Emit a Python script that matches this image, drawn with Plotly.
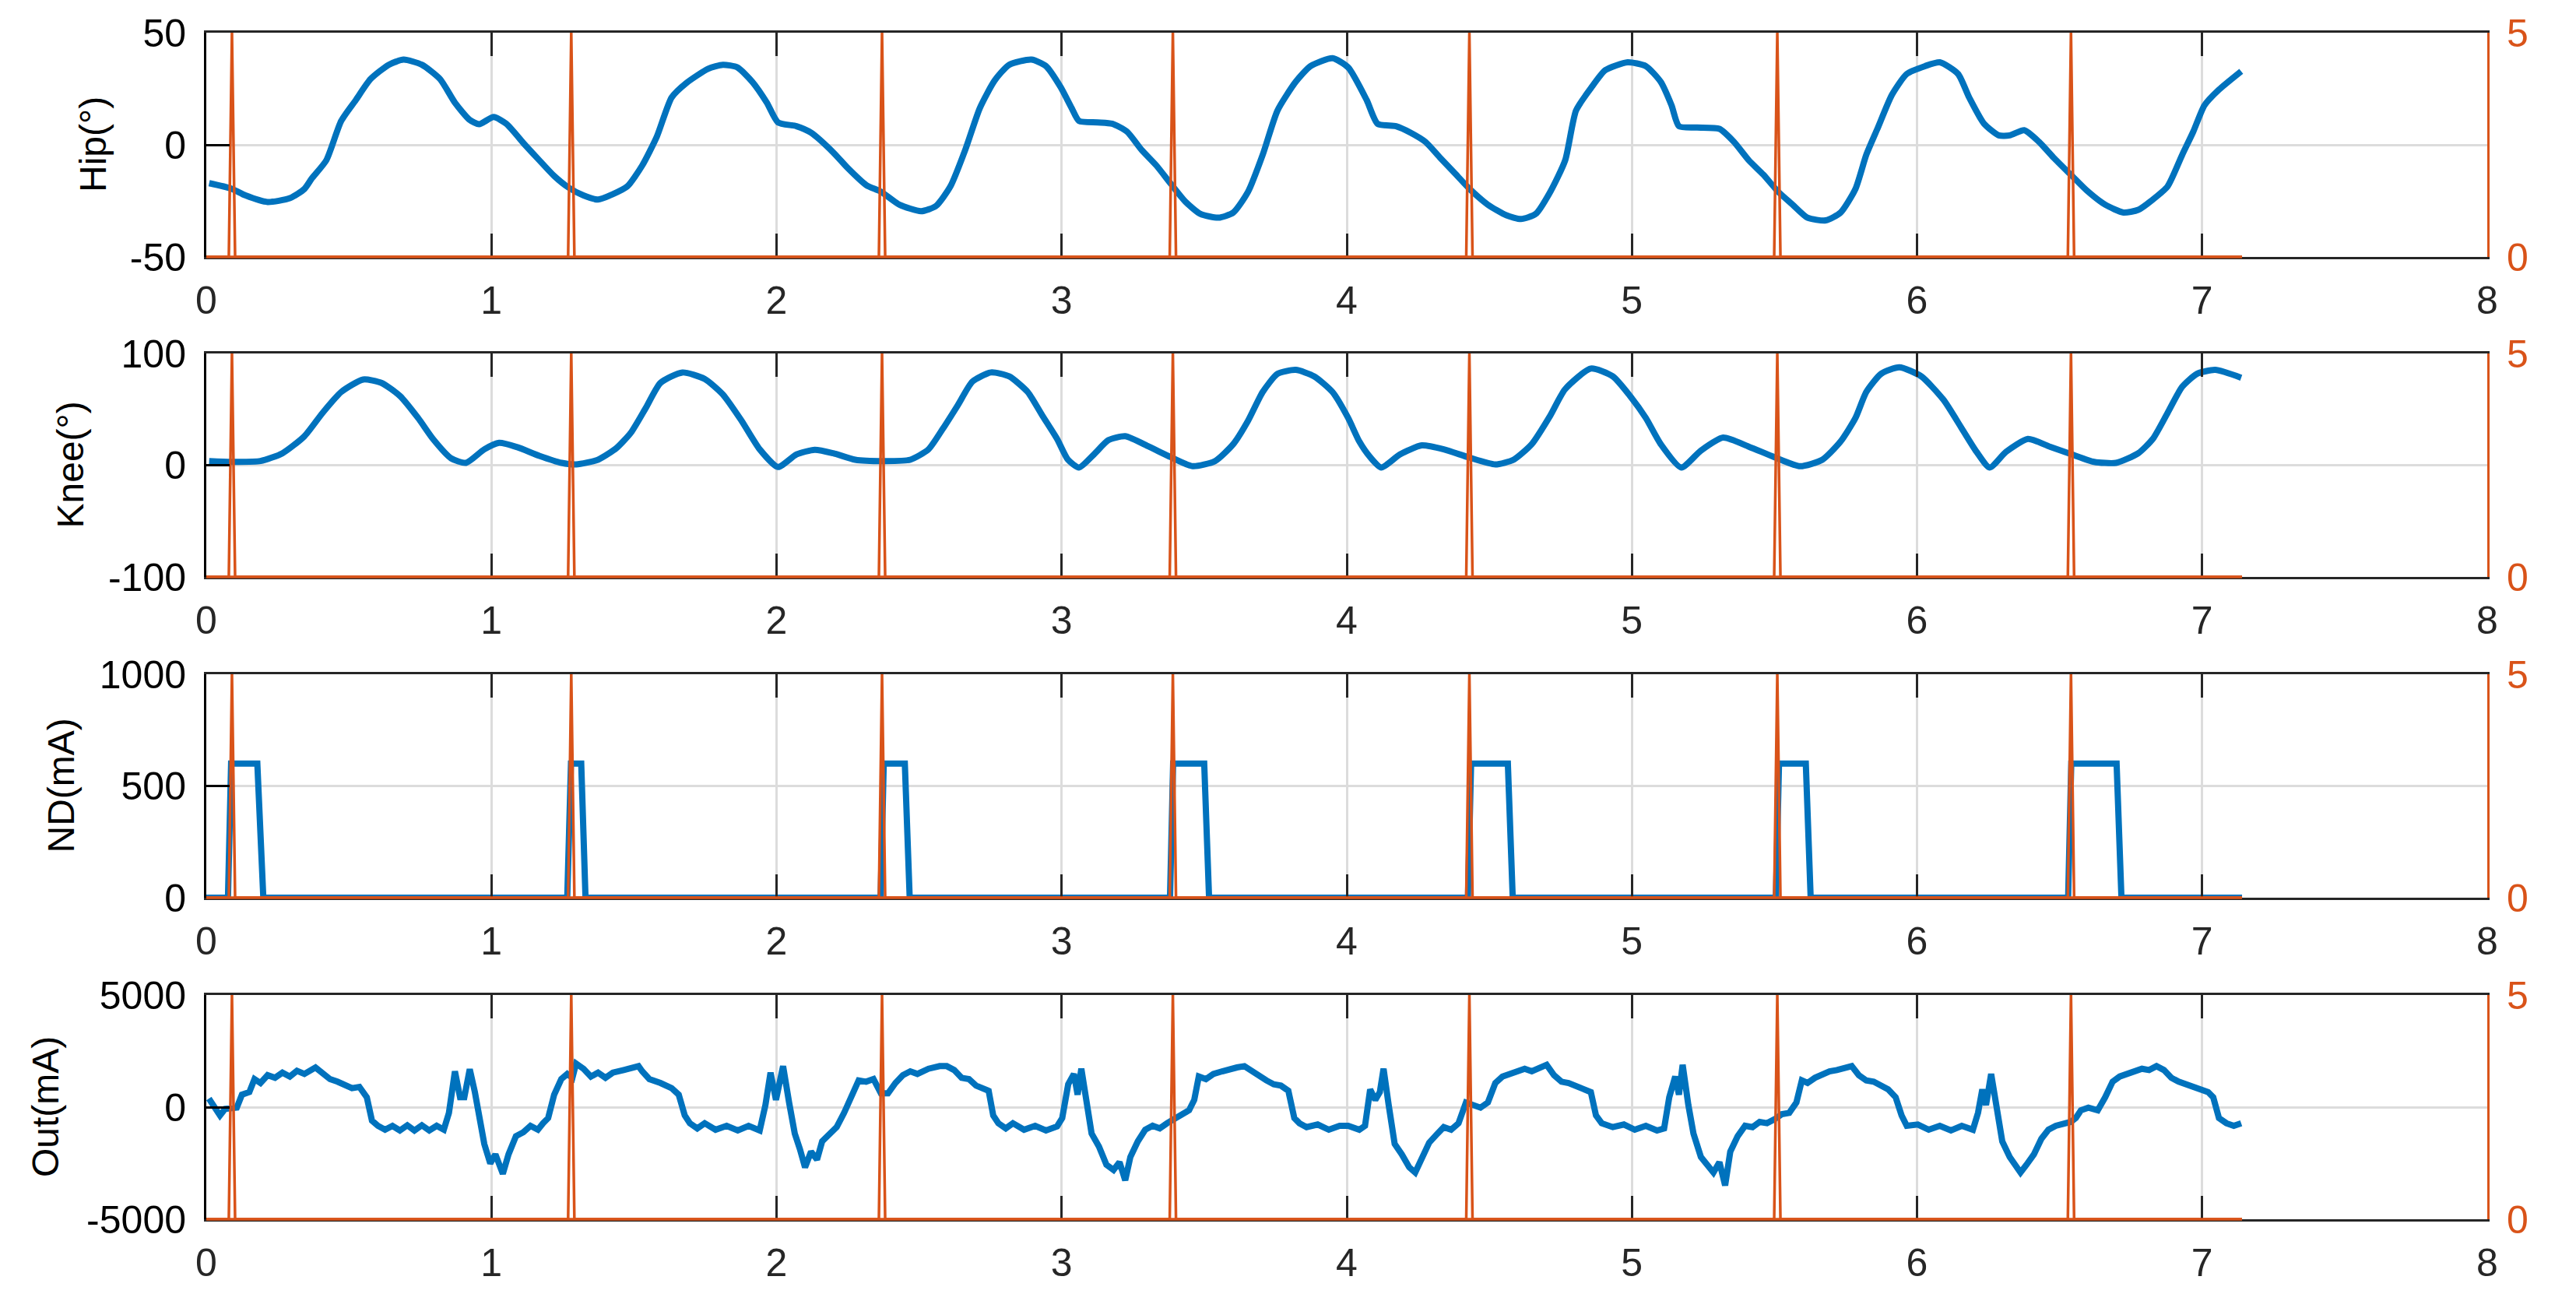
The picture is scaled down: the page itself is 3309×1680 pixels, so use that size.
import plotly.graph_objects as go

# ---------------- data ----------------
t_end = 7.14
spike_times = [0.09, 1.28, 2.37, 3.39, 4.43, 5.51, 6.54]
spike_height = 5

hip_t = [0.01, 0.087, 0.138, 0.215, 0.293, 0.344, 0.37, 0.421, 0.473, 0.524, 0.576, 0.64, 0.692, 0.756, 0.82,
         0.872, 0.923, 0.957, 1.008, 1.052, 1.117, 1.168, 1.22, 1.271, 1.323, 1.374, 1.426, 1.477, 1.529, 1.58,
         1.632, 1.683, 1.76, 1.812, 1.863, 1.915, 1.966, 2.005, 2.07, 2.121, 2.199, 2.25, 2.315, 2.366, 2.431,
         2.507, 2.559, 2.61, 2.662, 2.713, 2.765, 2.816, 2.894, 2.945, 2.996, 3.035, 3.061, 3.126, 3.177, 3.229,
         3.28, 3.332, 3.383, 3.435, 3.486, 3.55, 3.602, 3.654, 3.705, 3.757, 3.821, 3.873, 3.95, 4.005, 4.07,
         4.108, 4.173, 4.224, 4.276, 4.327, 4.379, 4.431, 4.495, 4.56, 4.611, 4.663, 4.714, 4.766, 4.804, 4.856,
         4.907, 4.985, 5.049, 5.101, 5.139, 5.165, 5.229, 5.307, 5.358, 5.41, 5.461, 5.513, 5.564, 5.616, 5.68,
         5.732, 5.784, 5.822, 5.861, 5.912, 5.964, 6.028, 6.08, 6.144, 6.183, 6.235, 6.287, 6.325, 6.376, 6.428,
         6.479, 6.544, 6.595, 6.66, 6.724, 6.776, 6.827, 6.879, 6.93, 6.969, 7.008, 7.059, 7.137]
hip_v = [-17.1, -19.5, -22.6, -25.5, -23.8, -19.7, -15, -6.9, 10.6, 19.9, 29.3, 35.7, 38, 35.7, 29.3,
         18.8, 11.2, 9.2, 12.4, 9.4, 0.1, -6.9, -13.9, -19.1, -22.6, -24.4, -22, -18.5, -9.2, 3.6,
         21.1, 27.5, 33.9, 35.7, 34.5, 28.1, 18.8, 10, 8.3, 5.4, -3.4, -10.4, -18, -20.9, -26.7,
         -29.6, -27.3, -18.5, -2.2, 16.4, 28.7, 35.7, 38, 35.1, 25.8, 16.4, 10.6, 10, 9.4, 5.9,
         -2.2, -9.2, -17.4, -25.5, -30.8, -32.5, -30.2, -20.9, -4.5, 15.3, 28.1, 35.1, 38.6, 34.5, 19.9,
         9.4, 8.3, 5.4, 1.3, -5.7, -12.7, -19.7, -26.7, -31.4, -33.1, -30.8, -20.9, -6.9, 15.3, 25.2,
         33.3, 36.8, 35.1, 28.1, 17.6, 8.3, 7.7, 7.1, 1.3, -6.9, -13.3, -20.9, -26.7, -32.5, -33.7,
         -30.2, -19.7, -4.5, 7.1, 22.3, 31.6, 35.1, 36.8, 31.6, 21.1, 9.4, 4.2, 4.2, 6.5, 1.3,
         -5.7, -13.9, -20.3, -26.7, -30.2, -29, -24.4, -18.5, -4.5, 5.9, 17.6, 24.6, 32.8]

knee_t = [0.01, 0.087, 0.19, 0.267, 0.344, 0.408, 0.473, 0.55, 0.614, 0.679, 0.743, 0.795, 0.859, 0.911, 0.975,
          1.027, 1.091, 1.168, 1.246, 1.297, 1.374, 1.439, 1.49, 1.542, 1.593, 1.67, 1.748, 1.812, 1.877, 1.941,
          2.005, 2.07, 2.134, 2.199, 2.276, 2.379, 2.469, 2.533, 2.584, 2.636, 2.687, 2.752, 2.816, 2.881, 2.932,
          2.984, 3.022, 3.061, 3.113, 3.164, 3.223, 3.306, 3.383, 3.46, 3.538, 3.602, 3.654, 3.705, 3.757, 3.821,
          3.886, 3.95, 4.005, 4.044, 4.082, 4.121, 4.186, 4.263, 4.34, 4.43, 4.521, 4.585, 4.649, 4.714, 4.765,
          4.856, 4.933, 4.997, 5.049, 5.101, 5.173, 5.242, 5.32, 5.41, 5.5, 5.59, 5.668, 5.732, 5.784, 5.822,
          5.874, 5.938, 6.015, 6.093, 6.157, 6.209, 6.255, 6.312, 6.389, 6.466, 6.544, 6.621, 6.698, 6.776, 6.827,
          6.879, 6.93, 6.982, 7.046, 7.137]
knee_v = [3.7, 3.0, 3.7, 10.7, 25.9, 46.9, 65.5, 76.7, 73.7, 62, 42.2, 23.5, 6.1, 2.1, 14.2,
          20, 16.1, 8.4, 2.1, 0.7, 4.9, 15.4, 29.4, 51.5, 73.7, 83, 77.2, 63.2, 39.9, 14.2,
          -1.6, 9.6, 13.8, 10.7, 4.9, 3.7, 4.9, 14.2, 32.9, 53.8, 74.8, 83, 79.5, 65.5, 44.5,
          23.5, 4.9, -2.1, 9.6, 22.4, 25.9, 16.6, 7.2, -0.9, 3.7, 18.9, 39.9, 65.5, 81.8, 85.3,
          79.5, 65.5, 42.2, 21.2, 7.2, -2.1, 9.6, 17.7, 14.2, 6.8, 0.7, 4.9, 18.9, 44.5, 67.8,
          86.5, 79.5, 60.8, 42.2, 18.9, -2.1, 13.1, 24.7, 16.6, 7.2, -0.9, 4.9, 21.2, 42.2, 65.5,
          81.8, 87.6, 79.5, 58.5, 32.9, 11.9, -2.1, 11.9, 23.5, 16.6, 9.6, 3.0, 2.1, 10.7, 23.5,
          46.9, 70.2, 81.8, 85.3, 78.3]

nd_level = 600
nd_rise_start = [0.076, 1.266, 2.365, 3.380, 4.425, 5.505, 6.530]
nd_rise_end = [0.087, 1.279, 2.376, 3.391, 4.436, 5.516, 6.541]
nd_fall_start = [0.179, 1.315, 2.450, 3.500, 4.565, 5.610, 6.700]
nd_fall_end = [0.200, 1.330, 2.467, 3.517, 4.582, 5.627, 6.717]

out_t = [0.009, 0.03, 0.048, 0.066, 0.087, 0.107, 0.125, 0.151, 0.169, 0.19, 0.215, 0.241, 0.267, 0.293, 0.318,
         0.344, 0.383, 0.408, 0.434, 0.46, 0.486, 0.511, 0.537, 0.563, 0.581, 0.602, 0.627, 0.653, 0.679, 0.705,
         0.73, 0.756, 0.782, 0.808, 0.833, 0.851, 0.872, 0.89, 0.905, 0.924, 0.942, 0.957, 0.975, 0.996, 1.014,
         1.04, 1.06, 1.086, 1.112, 1.137, 1.163, 1.181, 1.199, 1.22, 1.245, 1.266, 1.284, 1.297, 1.323, 1.349,
         1.374, 1.4, 1.426, 1.464, 1.49, 1.516, 1.529, 1.554, 1.593, 1.632, 1.657, 1.678, 1.696, 1.722, 1.748,
         1.786, 1.825, 1.864, 1.902, 1.941, 1.961, 1.979, 1.998, 2.023, 2.044, 2.064, 2.082, 2.1, 2.121, 2.142,
         2.16, 2.186, 2.211, 2.237, 2.263, 2.288, 2.314, 2.34, 2.366, 2.391, 2.417, 2.443, 2.469, 2.494, 2.533,
         2.572, 2.597, 2.623, 2.649, 2.675, 2.7, 2.726, 2.744, 2.76, 2.778, 2.804, 2.829, 2.868, 2.907, 2.945,
         2.984, 3.002, 3.023, 3.043, 3.056, 3.069, 3.087, 3.105, 3.131, 3.157, 3.182, 3.203, 3.223, 3.241, 3.267,
         3.293, 3.319, 3.344, 3.37, 3.396, 3.422, 3.447, 3.465, 3.481, 3.506, 3.532, 3.563, 3.589, 3.615, 3.641,
         3.666, 3.692, 3.718, 3.744, 3.769, 3.795, 3.816, 3.834, 3.859, 3.898, 3.937, 3.975, 4.005, 4.044, 4.064,
         4.082, 4.1, 4.116, 4.129, 4.147, 4.168, 4.193, 4.219, 4.24, 4.263, 4.289, 4.314, 4.34, 4.366, 4.392,
         4.418, 4.443, 4.469, 4.495, 4.521, 4.546, 4.572, 4.598, 4.624, 4.649, 4.675, 4.701, 4.727, 4.753, 4.778,
         4.804, 4.83, 4.856, 4.874, 4.894, 4.933, 4.972, 5.01, 5.049, 5.088, 5.113, 5.131, 5.152, 5.165, 5.178,
         5.198, 5.216, 5.242, 5.268, 5.286, 5.307, 5.327, 5.345, 5.371, 5.397, 5.423, 5.448, 5.474, 5.5, 5.526,
         5.552, 5.577, 5.596, 5.616, 5.642, 5.668, 5.693, 5.719, 5.745, 5.771, 5.796, 5.822, 5.848, 5.874, 5.899,
         5.925, 5.946, 5.964, 6.003, 6.041, 6.08, 6.119, 6.157, 6.196, 6.214, 6.229, 6.242, 6.26, 6.278, 6.299,
         6.325, 6.343, 6.363, 6.384, 6.41, 6.436, 6.461, 6.487, 6.513, 6.539, 6.557, 6.575, 6.601, 6.634, 6.66,
         6.686, 6.711, 6.737, 6.763, 6.789, 6.814, 6.84, 6.866, 6.892, 6.918, 6.956, 6.995, 7.021, 7.039, 7.059,
         7.085, 7.111, 7.137]
out_v = [382, -23, -370, -81, -23, -23, 555, 671, 1250, 1076, 1423, 1307, 1539, 1365, 1620,
         1481, 1770, 1539, 1250, 1134, 1018, 845, 902, 440, -602, -833, -1007, -833, -1041, -810,
         -1041, -810, -1041, -833, -1007, -255, 1597, 440, 440, 1689, 671, -486, -1643, -2511, -2106,
         -2974, -2106, -1296, -1122, -833, -1007, -717, -486, 555, 1250, 1481, 1307, 1944, 1712, 1365,
         1539, 1307, 1539, 1655, 1770, 1828, 1597, 1250, 1076, 845, 555, -370, -717, -949, -717,
         -1007, -833, -1041, -833, -1041, 93, 1539, 324, 1828, 208, -1180, -1874, -2684, -1990, -2337,
         -1527, -1180, -891, -255, 555, 1192, 1134, 1250, 613, 613, 1076, 1423, 1597, 1481, 1712,
         1828, 1828, 1655, 1307, 1250, 960, 845, 729, -370, -717, -949, -717, -1007, -833, -1041,
         -856, -486, 1018, 1481, 555, 1712, 440, -1180, -1759, -2568, -2800, -2453, -3263, -2221, -1527,
         -1007, -833, -949, -717, -544, -370, -139, 324, 1365, 1250, 1481, 1597, 1712, 1770, 1828,
         1597, 1365, 1192, 1018, 960, 729, -486, -717, -891, -775, -1007, -833, -833, -1007, -833,
         787, 324, 671, 1712, 93, -1643, -2106, -2684, -2916, -2337, -1585, -1238, -891, -1007, -717,
         208, 93, -23, 208, 1076, 1365, 1481, 1539, 1712, 1597, 1770, 1886, 1423, 1134, 1076,
         960, 845, 671, -370, -717, -891, -775, -1007, -833, -1041, -949, 440, 1365, 555, 1886,
         93, -1180, -2221, -2684, -2916, -2453, -3494, -1990, -1296, -833, -891, -659, -717, -544, -312,
         -255, 208, 1192, 1076, 1307, 1481, 1597, 1655, 1712, 1828, 1423, 1192, 1134, 960, 787,
         440, -370, -833, -775, -1007, -833, -1041, -833, -1007, -255, 787, 93, 1481, -23, -1527,
         -2221, -2568, -2916, -2568, -2106, -1412, -1007, -833, -717, -659, -486, -139, -23, -139, 440,
         1134, 1365, 1481, 1597, 1712, 1655, 1828, 1655, 1307, 1134, 960, 845, 671, 440, -486,
         -717, -833, -717]

y_titles = ["Hip(°)", "Knee(°)", "ND(mA)", "Out(mA)"]
left_ranges = [[-50, 50], [-100, 100], [0, 1000], [-5000, 5000]]
left_ticks = [[-50, 0, 50], [-100, 0, 100], [0, 500, 1000], [-5000, 0, 5000]]
left_ticktext = [["-50", "0", "50"], ["-100", "0", "100"], ["0", "500", "1000"], ["-5000", "0", "5000"]]
right_range = [0, 5]
right_ticks = [0, 5]
x_range = [0, 8]
x_ticks = [0, 1, 2, 3, 4, 5, 6, 7, 8]

# ---------------- derived traces ----------------
spk_x, spk_y = [0.0], [0.0]
for s in spike_times:
    spk_x += [s - 0.011, s, s + 0.011]
    spk_y += [0, spike_height, 0]
spk_x.append(t_end)
spk_y.append(0)

nd_x, nd_y = [0.0], [0]
for a, b, c, d in zip(nd_rise_start, nd_rise_end, nd_fall_start, nd_fall_end):
    nd_x += [a, b, c, d]
    nd_y += [0, nd_level, nd_level, 0]
nd_x.append(t_end)
nd_y.append(0)

series = [(hip_t, hip_v, "spline"), (knee_t, knee_v, "spline"), (nd_x, nd_y, "linear"), (out_t, out_v, "linear")]

# ---------------- layout geometry ----------------
W, H = 3309, 1680
OFF = 8  # default page body margin
BLUE = "#0072BD"
ORANGE = "#D95319"
GRID = "#dcdcdc"
FONT = "Liberation Sans, Arial, sans-serif"
TICKSIZE = 50
xdom = [(265 - OFF) / W, (3195 - OFF) / W]
rows_px = [(42, 330), (454, 741), (866, 1153), (1278, 1566)]
ydoms = [[1 - (b - OFF) / H, 1 - (a - OFF) / H] for a, b in rows_px]
title_x_px = [119, 90, 78, 58]

fig = go.Figure()
layout = dict(template="none", width=W, height=H, margin=dict(l=0, r=0, t=0, b=0, pad=0),
              paper_bgcolor="white", plot_bgcolor="white", showlegend=False,
              font=dict(family=FONT, color="black"),
              annotations=[], shapes=[])

for k in range(4):
    xa = "x" if k == 0 else f"x{k + 1}"
    yl = f"y{2 * k + 1}" if k > 0 else "y"
    yr = f"y{2 * k + 2}"
    xs, ys, shp = series[k]
    fig.add_trace(go.Scatter(x=xs, y=ys, mode="lines", xaxis=xa, yaxis=yl,
                             line=dict(color=BLUE, width=8, shape=shp, smoothing=0.6 if shp == "spline" else None)))
    fig.add_trace(go.Scatter(x=spk_x, y=spk_y, mode="lines", xaxis=xa, yaxis=yr,
                             line=dict(color=ORANGE, width=3.5)))

    xkey = "xaxis" if k == 0 else f"xaxis{k + 1}"
    ylkey = "yaxis" if k == 0 else f"yaxis{2 * k + 1}"
    yrkey = f"yaxis{2 * k + 2}"
    layout[xkey] = dict(domain=xdom, anchor=yl, range=x_range, tickvals=x_ticks, automargin=False,
                        showline=True, linecolor="#262626", linewidth=3, mirror="ticks",
                        ticks="inside", ticklen=30, tickwidth=3, tickcolor="#262626",
                        showgrid=True, gridcolor=GRID, gridwidth=3, zeroline=False,
                        tickfont=dict(family=FONT, size=TICKSIZE, color="#262626"),
                        ticklabelstandoff=10)
    layout[ylkey] = dict(domain=ydoms[k], anchor=xa, range=left_ranges[k], tickvals=left_ticks[k],
                         ticktext=left_ticktext[k], automargin=False,
                         showline=True, linecolor="black", linewidth=3,
                         ticks="inside", ticklen=30, tickwidth=3, tickcolor="black",
                         showgrid=True, gridcolor=GRID, gridwidth=3, zeroline=False,
                         tickfont=dict(family=FONT, size=TICKSIZE, color="black"),
                         ticklabelstandoff=13)
    layout[yrkey] = dict(domain=ydoms[k], anchor=xa, overlaying=yl, side="right", automargin=False,
                         range=right_range, tickvals=right_ticks,
                         showline=True, linecolor=ORANGE, linewidth=3,
                         ticks="inside", ticklen=30, tickwidth=3, tickcolor=ORANGE,
                         showgrid=False, zeroline=False,
                         tickfont=dict(family=FONT, size=TICKSIZE, color=ORANGE),
                         ticklabelstandoff=12)
    layout["annotations"].append(dict(text=y_titles[k], xref="paper", yref="paper",
                                      x=(title_x_px[k] - OFF) / W, y=(ydoms[k][0] + ydoms[k][1]) / 2,
                                      xanchor="center", yanchor="middle", textangle=-90,
                                      showarrow=False, font=dict(family=FONT, size=48, color="black")))
    # orange baseline of the right-axis trace drawn over the bottom box edge
    x_end_paper = xdom[0] + (t_end - x_range[0]) / (x_range[1] - x_range[0]) * (xdom[1] - xdom[0])
    layout["shapes"].append(dict(type="line", xref="paper", yref="paper", layer="above",
                                 x0=xdom[0], x1=x_end_paper, y0=ydoms[k][0], y1=ydoms[k][0],
                                 line=dict(color=ORANGE, width=3.5)))

fig.update_layout(**layout)
fig.write_html("out.html")
